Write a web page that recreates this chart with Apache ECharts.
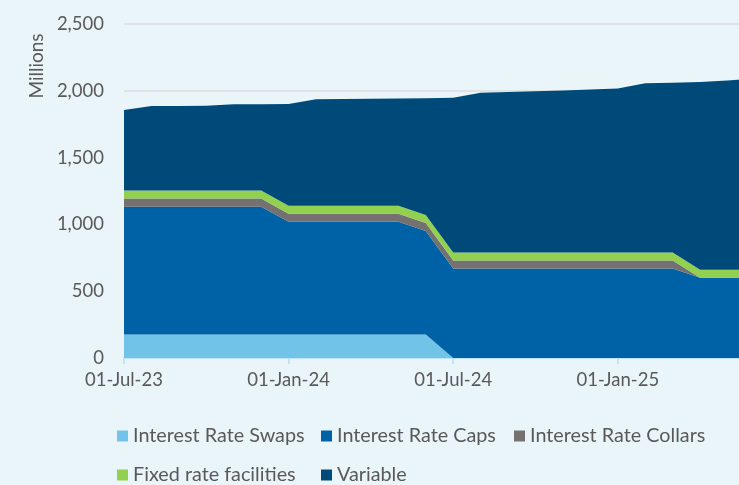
<!DOCTYPE html>
<html>
<head>
<meta charset="utf-8">
<title>Hedging profile</title>
<script src="https://cdn.jsdelivr.net/npm/echarts@6/dist/echarts.min.js"></script>
<style>
  html, body { margin: 0; padding: 0; background: #eaf5fa; overflow: hidden; }
  /* the plot runs past the right edge of the window, as in the original */
  #myChart { width: 755px; height: 485px; }
</style>
</head>
<body>
<div id="myChart"></div>
<script>
// x axis: monthly dates
const months = [
  '01-Jul-23', '01-Aug-23', '01-Sep-23', '01-Oct-23', '01-Nov-23', '01-Dec-23',
  '01-Jan-24', '01-Feb-24', '01-Mar-24', '01-Apr-24', '01-May-24', '01-Jun-24',
  '01-Jul-24', '01-Aug-24', '01-Sep-24', '01-Oct-24', '01-Nov-24', '01-Dec-24',
  '01-Jan-25', '01-Feb-25', '01-Mar-25', '01-Apr-25', '01-May-25', '01-Jun-25'
]
// series values (millions)
const swaps = [175, 175, 175, 175, 175, 175, 175, 175, 175, 175, 175, 175,
  0, 0, 0, 0, 0, 0, 0, 0, 0, 0, 0, 0]
const caps = [958, 958, 958, 958, 958, 958, 845, 845, 845, 845, 845, 775,
  670, 670, 670, 670, 670, 670, 670, 670, 670, 600, 600, 600]
const collars = [60, 60, 60, 60, 60, 60, 60, 60, 60, 60, 60, 60,
  60, 60, 60, 60, 60, 60, 60, 60, 60, 0, 0, 0]
const fixed = [60, 60, 60, 60, 60, 60, 60, 60, 60, 60, 60, 60,
  60, 60, 60, 60, 60, 60, 60, 60, 60, 60, 60, 60]
const variable = [603, 633, 634, 635, 646, 647, 761, 796, 798, 800, 802, 875,
  1158, 1196, 1201, 1206, 1213, 1220, 1228, 1266, 1270, 1406, 1418, 1432]

const seriesNames = ['Interest Rate Swaps', 'Interest Rate Caps', 'Interest Rate Collars',
  'Fixed rate facilities', 'Variable']
const seriesData = [swaps, caps, collars, fixed, variable]
const colors = ['#71c4e8', '#0062a6', '#767171', '#92d050', '#004a7a']

const textColor = '#595959'
const fontFamily = 'Lato, "Open Sans", sans-serif'

// legend positions (Excel style, two rows)
const legendPos = [
  { left: 117, top: 426 },
  { left: 321, top: 426 },
  { left: 514, top: 426 },
  { left: 117, top: 465 },
  { left: 321, top: 465 }
]

const myChart = echarts.init(document.getElementById('myChart'))

const option = {
  backgroundColor: '#eaf5fa',
  animation: false,
  color: colors,
  textStyle: { fontFamily: fontFamily },
  grid: {
    left: 124,
    right: 0,
    top: 24,
    bottom: 127
  },
  legend: seriesNames.map(function(name, i) {
    return {
      data: [name],
      left: legendPos[i].left,
      top: legendPos[i].top,
      icon: 'rect',
      itemWidth: 11,
      itemHeight: 11,
      itemGap: 0,
      padding: 0,
      textStyle: { color: textColor, fontSize: 19.8, fontFamily: fontFamily }
    }
  }),
  graphic: [
    {
      type: 'text',
      x: 37,
      y: 66,
      rotation: Math.PI / 2,
      style: {
        text: 'Millions',
        fill: textColor,
        font: '19px ' + fontFamily,
        textAlign: 'center',
        textVerticalAlign: 'middle'
      }
    }
  ],
  xAxis: {
    type: 'category',
    boundaryGap: false,
    data: months,
    axisLine: { lineStyle: { color: '#bfe4f5', width: 2 } },
    axisTick: { show: true, interval: 5, length: 6, lineStyle: { color: '#bfe4f5', width: 2 } },
    axisLabel: { interval: 5, color: textColor, fontSize: 18.5, margin: 13, fontFamily: fontFamily },
    splitLine: { show: false }
  },
  yAxis: {
    type: 'value',
    min: 0,
    max: 2500,
    interval: 500,
    axisLine: { show: false },
    axisTick: { show: false },
    axisLabel: {
      color: textColor,
      fontSize: 18.5,
      margin: 20,
      fontFamily: fontFamily,
      formatter: function(v) { return v.toLocaleString('en-US') }
    },
    splitLine: { lineStyle: { color: '#dcdcdc', width: 1.5 } }
  },
  series: seriesNames.map(function(name, i) {
    return {
      name: name,
      type: 'line',
      stack: 'total',
      symbol: 'none',
      lineStyle: { width: 0 },
      areaStyle: { color: colors[i], opacity: 1 },
      data: seriesData[i]
    }
  })
}

myChart.setOption(option)
</script>
</body>
</html>
